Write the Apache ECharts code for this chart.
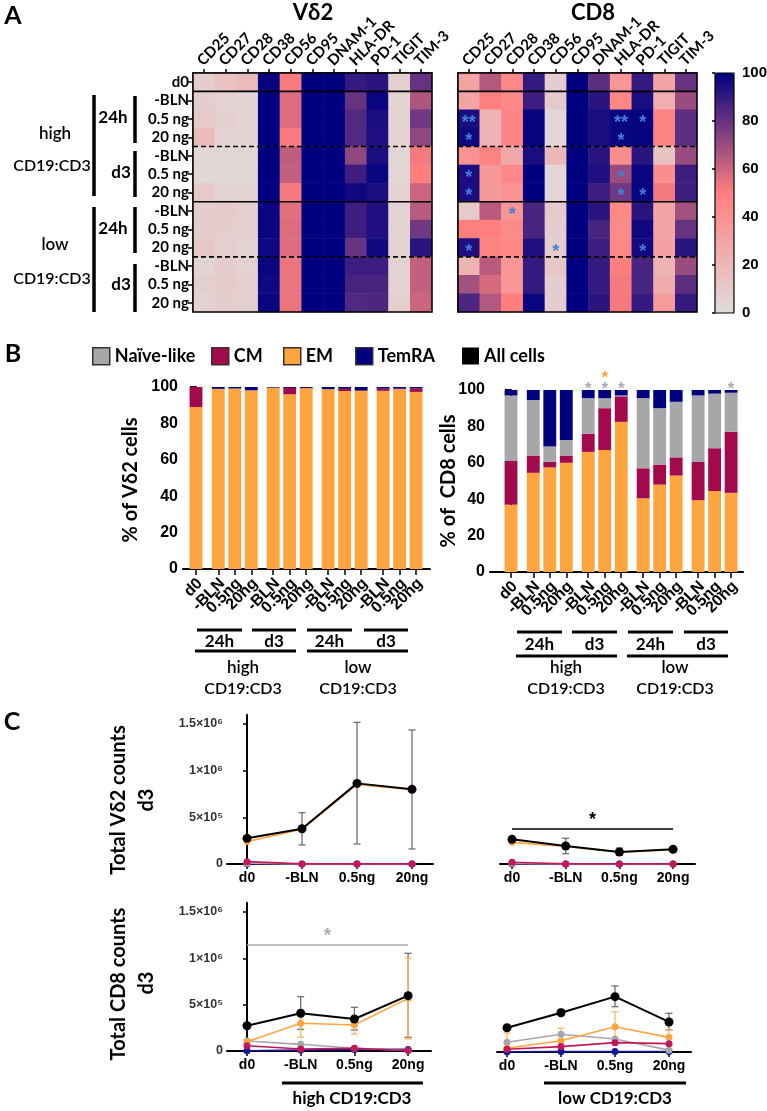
<!DOCTYPE html>
<html><head><meta charset="utf-8">
<script src="https://cdn.jsdelivr.net/npm/echarts@6/dist/echarts.min.js"></script>
<style>html,body{margin:0;padding:0;background:#fff}#c{width:767px;height:1111px}</style>
</head><body><div id="c"></div>
<script>
// ================= DATA =================
const markers = ['CD25','CD27','CD28','CD38','CD56','CD95','DNAM-1','HLA-DR','PD-1','TIGIT','TIM-3'];
const conditionLabels = ['d0','-BLN','0.5 ng','20 ng','-BLN','0.5 ng','20 ng','-BLN','0.5 ng','20 ng','-BLN','0.5 ng','20 ng'];
// rows: d0, high 24h(-BLN,0.5,20), high d3(...), low 24h(...), low d3(...)
const vd2Heat = [
  [8, 14, 18, 99, 51, 100, 100, 90, 92, 7, 80],
  [8, 6, 5, 100, 57, 100, 100, 80, 98, 5, 66],
  [10, 7, 5, 100, 57, 100, 100, 84, 95, 5, 78],
  [18, 5, 5, 100, 51, 100, 100, 84, 94, 6, 72],
  [3, 3, 4, 100, 63, 100, 100, 72, 95, 4, 52],
  [3, 3, 4, 100, 62, 100, 100, 88, 98, 4, 50],
  [10, 5, 5, 100, 52, 100, 100, 97, 95, 5, 60],
  [8, 9, 7, 98, 56, 100, 100, 88, 94, 6, 64],
  [8, 8, 7, 98, 57, 100, 100, 88, 94, 5, 78],
  [12, 7, 6, 97, 57, 100, 100, 80, 97, 6, 92],
  [5, 8, 6, 98, 54, 100, 100, 88, 88, 6, 62],
  [7, 9, 7, 97, 54, 100, 100, 86, 86, 6, 62],
  [6, 8, 7, 98, 54, 100, 100, 84, 85, 7, 60]
];
const cd8Heat = [
  [30, 65, 45, 90, 8, 100, 82, 38, 90, 30, 80],
  [30, 50, 45, 88, 10, 100, 92, 46, 95, 25, 70],
  [95, 22, 47, 99, 3, 100, 95, 98, 99, 48, 82],
  [97, 22, 47, 99, 3, 100, 95, 98, 99, 48, 82],
  [40, 48, 28, 95, 20, 100, 92, 42, 92, 14, 70],
  [95, 38, 45, 100, 3, 100, 94, 70, 98, 42, 88],
  [95, 36, 40, 100, 3, 100, 88, 78, 98, 52, 88],
  [10, 64, 38, 86, 10, 100, 92, 45, 92, 30, 68],
  [50, 50, 44, 86, 8, 100, 86, 44, 97, 30, 80],
  [94, 48, 46, 94, 8, 100, 88, 46, 96, 32, 92],
  [22, 64, 38, 90, 12, 100, 90, 50, 86, 22, 70],
  [68, 58, 38, 90, 8, 100, 90, 52, 86, 26, 82],
  [85, 65, 50, 98, 8, 100, 92, 52, 90, 35, 90]
];
// [column, row, text]
const cd8Stars = [
  [0, 2, '**'], [7, 2, '**'], [8, 2, '*'],
  [0, 3, '*'], [7, 3, '*'],
  [0, 5, '*'], [7, 5, '*'],
  [0, 6, '*'], [7, 6, '*'], [8, 6, '*'],
  [2, 7, '*'],
  [0, 9, '*'], [4, 9, '*'], [8, 9, '*']
];
const heatColors = ['#e0dcdc', '#ff7f7f', '#000080'];

const barLabels = ['d0','-BLN','0.5ng','20ng','-BLN','0.5ng','20ng','-BLN','0.5ng','20ng','-BLN','0.5ng','20ng'];
const vd2EM    = [89, 98.9, 99.2, 98.1, 99.5, 96, 99.3, 98.8, 97.8, 97.8, 97.9, 98.8, 97.3];
const vd2CM    = [11, 0.1, 0, 0.2, 0.2, 3.5, 0.2, 0, 1.2, 0.4, 1.2, 0.3, 2];
const vd2Naive = [0, 0, 0, 0, 0, 0, 0, 0, 0, 0, 0, 0, 0];
const vd2TemRA = [0, 1, 0.8, 1.7, 0.3, 0.5, 0.5, 1.2, 1, 1.8, 0.9, 0.9, 0.7];
const cd8EM    = [37, 54.5, 57.5, 60, 66, 67, 82.5, 40.5, 48, 53, 39.5, 44.5, 43.5];
const cd8CM    = [24, 9.5, 3, 4, 10, 23, 14, 16.5, 11, 10, 21, 23.5, 33.5];
const cd8Naive = [36, 30.5, 8.5, 8.5, 19.5, 5.5, 0.5, 38.5, 31, 30.5, 36.5, 30, 21.5];
const cd8TemRA = [3, 5.5, 31, 27.5, 4.5, 4.5, 3, 4.5, 10, 6.5, 3, 2, 1.5];
// [bar index, value height, colour key]
const cd8BarStars = [[4, 102.7, 'naive'], [5, 102.7, 'naive'], [6, 102.7, 'naive'], [12, 102.7, 'naive'], [5, 108.8, 'em']];

const countCats = ['d0', '-BLN', '0.5ng', '20ng'];
const countTicks = [0, 500000, 1000000, 1500000];
const countTickLabels = ['0', '5×10⁵', '1×10⁶', '1.5×10⁶'];
// Vd2 high CD19:CD3
const vHiAll = [275000, 378000, 864000, 800000];
const vHiAllErr = [[1, 204000, 550000], [2, 214000, 1518000], [3, 161000, 1436000]];
const vHiEM = [240000, 372000, 852000, 795000];
const vHiCM = [25000, 1000, 1000, 1000];
const vHiNaive = [8000, 0, 0, 0];
const vHiTemRA = [2000, 0, 0, 0];
// Vd2 low CD19:CD3
const vLoAll = [264000, 193000, 129000, 157000];
const vLoAllErr = [[1, 111000, 275000], [2, 93000, 171000], [3, 129000, 182000]];
const vLoEM = [232000, 188000, 126000, 154000];
const vLoCM = [18000, 1000, 1000, 1000];
const vLoNaive = [6000, 0, 0, 0];
const vLoTemRA = [1000, 0, 0, 0];
const vLoSig = [0, 3, 375000];
// CD8 high
const cHiAll = [273000, 407000, 345000, 597000];
const cHiAllErr = [[1, 234000, 586000], [2, 227000, 471000], [3, 148000, 1054000]];
const cHiEM = [101000, 299000, 281000, 568000];
const cHiEMErr = [[0, 80000, 122000], [1, 148000, 400000], [2, 183000, 340000], [3, 130000, 1004000]];
const cHiCM = [57000, 22000, 29000, 5000];
const cHiNaive = [108000, 72000, 29000, 5000];
const cHiTemRA = [3000, 10000, 15000, 17000];
const cHiSig = [0, 3, 1144000];
// CD8 low
const cLoAll = [262000, 424000, 597000, 324000];
const cLoAllErr = [[1, 399000, 460000], [2, 489000, 712000], [3, 237000, 418000]];
const cLoEM = [40000, 122000, 273000, 158000];
const cLoEMErr = [[0, 10000, 205000], [1, 60000, 256000], [2, 112000, 435000], [3, 80000, 237000]];
const cLoCM = [29000, 58000, 101000, 90000];
const cLoNaive = [105000, 191000, 140000, 20000];
const cLoTemRA = [3000, 5000, 5000, 5000];

// ================= STYLE =================
const LATO = 'Lato, "Open Sans", sans-serif';
const ARIAL = '"Liberation Sans", Arial, sans-serif';
const COL = { naive: '#a7a7a9', cm: '#a3094d', em: '#ffa53f', temra: '#00007f', all: '#000000', cmLine: '#c2185b', temLine: '#16169a' };

const chart = echarts.init(document.getElementById('c'), null, { renderer: 'canvas', width: 767, height: 1111 });

// bar positions (layout): d0, then 4 groups of 3
const barPos = [0];
for (let g = 0; g < 4; g++) for (let k = 0; k < 3; k++) barPos.push(+(1.35 + g * 3.33 + k).toFixed(4));
function rangeFor(left, width, firstPx, step) { return { min: (left - firstPx) / step, max: (left + width - firstPx) / step }; }

const G = [
  { left: 193, top: 73, width: 239, height: 239 },
  { left: 458, top: 73, width: 239, height: 239 },
  { left: 715, top: 73, width: 19, height: 240 },
  { left: 183, top: 387, width: 247, height: 182 },
  { left: 490, top: 390, width: 253, height: 182 },
  { left: 227, top: 714.7, width: 206, height: 149.3 },
  { left: 500, top: 714.7, width: 195, height: 149.3 },
  { left: 227, top: 902.7, width: 204, height: 148.3 },
  { left: 497, top: 903.7, width: 194, height: 148.3 }
].map(g => Object.assign({ containLabel: false, outerBoundsMode: 'none' }, g));

const blackLine = { show: true, lineStyle: { color: '#000', width: 1.5 } };

function heatX(gi) {
  return { gridIndex: gi, type: 'category', data: markers, position: 'top',
    axisLine: blackLine, axisTick: { show: true, alignWithLabel: true, interval: 0, length: 4, lineStyle: { color: '#000', width: 1.5 } },
    axisLabel: { show: false }, splitLine: { show: false } };
}
function heatY(gi, showLabels) {
  return { gridIndex: gi, type: 'category', data: conditionLabels, inverse: true,
    axisLine: blackLine, axisTick: { show: showLabels, alignWithLabel: true, interval: 0, length: 5, lineStyle: { color: '#000', width: 1.5 } },
    axisLabel: { show: showLabels, interval: 0, margin: 4, color: '#000', fontFamily: LATO, fontWeight: 'bold', fontSize: 15 },
    splitLine: { show: false } };
}
function barX(gi, firstPx) {
  const r = rangeFor(G[gi].left, G[gi].width, firstPx, 16.5);
  return { gridIndex: gi, type: 'value', min: r.min, max: r.max,
    axisLine: { show: true, lineStyle: { color: '#000', width: 2 } },
    axisTick: { show: true, customValues: barPos, length: 6, lineStyle: { color: '#000', width: 1.5 } },
    axisLabel: { show: false }, splitLine: { show: false } };
}
function barY(gi) {
  return { gridIndex: gi, type: 'value', min: 0, max: 100, interval: 20,
    axisLine: { show: true, lineStyle: { color: '#000', width: 2 } },
    axisTick: { show: true, length: 6, lineStyle: { color: '#000', width: 2 } },
    axisLabel: { margin: 5, color: '#000', fontFamily: ARIAL, fontWeight: 'bold', fontSize: 16 },
    splitLine: { show: false } };
}
function cntX(gi, firstPx, step) {
  const r = rangeFor(G[gi].left, G[gi].width, firstPx, step);
  const vals = [0, 1, 2, 3];
  return { gridIndex: gi, type: 'value', min: r.min, max: r.max,
    axisLine: { show: true, lineStyle: { color: '#000', width: 2 } },
    axisTick: { show: true, customValues: vals, length: 5, lineStyle: { color: '#000', width: 1.5 } },
    axisLabel: { customValues: vals, margin: 7, showMinLabel: true, showMaxLabel: true, color: '#000', fontFamily: ARIAL, fontWeight: 'bold', fontSize: 14,
      formatter: v => countCats[Math.round(v)] },
    splitLine: { show: false } };
}
function cntY(gi, show) {
  return { gridIndex: gi, type: 'value', min: 0, max: 1600000, show: show,
    axisLine: { show: true, lineStyle: { color: '#000', width: 2 } },
    axisTick: { show: true, customValues: countTicks, length: 4, lineStyle: { color: '#000', width: 1.5 } },
    axisLabel: { customValues: countTicks, margin: 4, showMinLabel: true, showMaxLabel: true, color: '#333', fontFamily: ARIAL, fontWeight: 'bold', fontSize: 12.5,
      formatter: v => { const i = countTicks.indexOf(v); return i >= 0 ? countTickLabels[i] : ''; } },
    splitLine: { show: false } };
}

const xAxis = [
  heatX(0), heatX(1),
  { gridIndex: 2, type: 'value', show: false, min: 0, max: 1 },
  barX(3, 196), barX(4, 511),
  cntX(5, 247, 55), cntX(6, 512, 53.7), cntX(7, 247, 53.7), cntX(8, 507, 54)
];
const yAxis = [
  heatY(0, true), heatY(1, false),
  { gridIndex: 2, type: 'value', min: 0, max: 100, interval: 20, position: 'right',
    axisLine: { show: false }, axisTick: { show: true, inside: true, length: 3, lineStyle: { color: '#000', width: 1.5 } },
    axisLabel: { margin: 8, color: '#000', fontFamily: ARIAL, fontWeight: 'bold', fontSize: 15 }, splitLine: { show: false } },
  barY(3), barY(4),
  cntY(5, true), cntY(6, false), cntY(7, true), cntY(8, false)
];

function heatData(rows) { const d = []; rows.forEach((r, ri) => r.forEach((v, ci) => d.push([ci, ri, v]))); return d; }

function renderStack(params, api) {
  const x = api.value(0), y0 = api.value(1), y1 = api.value(2);
  const a = api.coord([x, y0]), b = api.coord([x, y1]);
  const w = api.size([0.78, 0])[0];
  return { type: 'rect', shape: { x: a[0] - w / 2, y: b[1], width: w, height: a[1] - b[1] }, style: { fill: api.visual('color') } };
}
function stackSeries(gi, name, color, vals, below) {
  return { type: 'custom', name: name, xAxisIndex: gi, yAxisIndex: gi, silent: true, clip: false,
    itemStyle: { color: color }, encode: { x: 0, y: [1, 2] },
    data: vals.map((v, i) => [barPos[i], below[i], below[i] + v]), renderItem: renderStack };
}
function stacked(gi, em, cm, naive, tem) {
  const base0 = em.map(() => 0);
  const b1 = em.slice();
  const b2 = em.map((v, i) => v + cm[i]);
  const b3 = b2.map((v, i) => v + naive[i]);
  return [
    stackSeries(gi, 'EM', COL.em, em, base0),
    stackSeries(gi, 'CM', COL.cm, cm, b1),
    stackSeries(gi, 'Naïve-like', COL.naive, naive, b2),
    stackSeries(gi, 'TemRA', COL.temra, tem, b3)
  ];
}

function renderErr(params, api) {
  const x = api.value(0), lo = api.value(1), hi = api.value(2);
  const a = api.coord([x, lo]), b = api.coord([x, hi]); const c = 3.5;
  const st = { stroke: api.visual('color'), lineWidth: 1.3 };
  return { type: 'group', children: [
    { type: 'line', shape: { x1: a[0], y1: a[1], x2: b[0], y2: b[1] }, style: st },
    { type: 'line', shape: { x1: a[0] - c, y1: a[1], x2: a[0] + c, y2: a[1] }, style: st },
    { type: 'line', shape: { x1: b[0] - c, y1: b[1], x2: b[0] + c, y2: b[1] }, style: st }
  ] };
}
function errSeries(gi, color, data) {
  return { type: 'custom', xAxisIndex: gi, yAxisIndex: gi, silent: true, clip: false, itemStyle: { color: color },
    encode: { x: 0, y: [1, 2] }, data: data, renderItem: renderErr, z: 3 };
}
function lineSeries(gi, name, color, vals, size, width, z, sig, sigColor) {
  const s = { type: 'line', name: name, xAxisIndex: gi, yAxisIndex: gi, silent: true, clip: false,
    data: vals.map((v, i) => [i, v]), symbol: 'circle', symbolSize: size, color: color,
    itemStyle: { color: color }, lineStyle: { color: color, width: width }, z: z };
  if (sig) {
    s.markLine = { silent: true, symbol: ['none', 'none'], animation: false,
      lineStyle: { color: sigColor, width: 1.5, type: 'solid' },
      label: { show: true, position: 'middle', formatter: '*', color: sigColor, fontFamily: ARIAL, fontWeight: 'bold', fontSize: 18, distance: 0 },
      data: [[{ coord: [sig[0], sig[2]] }, { coord: [sig[1], sig[2]] }]] };
  }
  return s;
}
function countPanel(gi, all, allErr, em, emErr, cm, naive, tem, sigAll, sigNaive) {
  const out = [
    lineSeries(gi, 'TemRA', COL.temLine, tem, 7, 1.6, 4),
    lineSeries(gi, 'Naïve-like', COL.naive, naive, 7, 1.6, 4, sigNaive, '#aaaaaa'),
    lineSeries(gi, 'EM', COL.em, em, 7, 1.6, 5),
    lineSeries(gi, 'CM', COL.cmLine, cm, 7, 1.6, 6),
    errSeries(gi, '#6f6f6f', allErr),
    lineSeries(gi, 'All cells', COL.all, all, 9, 2, 8, sigAll, '#000')
  ];
  if (emErr) out.push(errSeries(gi, '#ffb866', emErr));
  return out;
}

const series = [
  { type: 'heatmap', xAxisIndex: 0, yAxisIndex: 0, data: heatData(vd2Heat), silent: true, itemStyle: { borderWidth: 0 } },
  { type: 'heatmap', xAxisIndex: 1, yAxisIndex: 1, data: heatData(cd8Heat), silent: true, itemStyle: { borderWidth: 0 } },
  { type: 'custom', xAxisIndex: 1, yAxisIndex: 1, silent: true, z: 5, data: cd8Stars.map(s => [s[0], s[1]]),
    renderItem: (p, api) => { const c = api.coord([api.value(0), api.value(1)]);
      return { type: 'text', x: c[0], y: c[1] + 4, style: { text: cd8Stars[p.dataIndex][2], fill: '#3f82d4',
        font: 'bold 18px "Liberation Sans", Arial, sans-serif', align: 'center', verticalAlign: 'middle', textAlign: 'center', textVerticalAlign: 'middle' } }; } },
  ...stacked(3, vd2EM, vd2CM, vd2Naive, vd2TemRA),
  ...stacked(4, cd8EM, cd8CM, cd8Naive, cd8TemRA),
  { type: 'custom', xAxisIndex: 4, yAxisIndex: 4, silent: true, clip: false, z: 5, data: cd8BarStars.map(s => [barPos[s[0]], s[1]]),
    renderItem: (p, api) => { const c = api.coord([api.value(0), api.value(1)]); const k = cd8BarStars[p.dataIndex][2];
      return { type: 'text', x: c[0], y: c[1] + 4, style: { text: '*', fill: k === 'em' ? COL.em : '#a9a9b4',
        font: 'bold 17px "Liberation Sans", Arial, sans-serif', align: 'center', verticalAlign: 'middle', textAlign: 'center', textVerticalAlign: 'middle' } }; } },
  ...countPanel(5, vHiAll, vHiAllErr, vHiEM, null, vHiCM, vHiNaive, vHiTemRA, null, null),
  ...countPanel(6, vLoAll, vLoAllErr, vLoEM, null, vLoCM, vLoNaive, vLoTemRA, vLoSig, null),
  ...countPanel(7, cHiAll, cHiAllErr, cHiEM, cHiEMErr, cHiCM, cHiNaive, cHiTemRA, null, cHiSig),
  ...countPanel(8, cLoAll, cLoAllErr, cLoEM, cLoEMErr, cLoCM, cLoNaive, cLoTemRA, null, null)
];

// legends (one per item for exact placement)
const legendItems = [
  { name: 'Naïve-like', left: 92, border: true },
  { name: 'CM', left: 211, border: true },
  { name: 'EM', left: 283, border: true },
  { name: 'TemRA', left: 355, border: true },
  { name: 'All cells', left: 462, border: false }
];
const legend = legendItems.map(it => ({
  data: [{ name: it.name, itemStyle: it.border ? { borderColor: '#333', borderWidth: 1.5 } : { color: '#000' } }],
  left: it.left, top: 347, padding: 0, icon: 'rect', itemWidth: 17, itemHeight: 17, selectedMode: false,
  textStyle: { color: '#000', fontFamily: LATO, fontWeight: 'bold', fontSize: 18 }
}));

// ---------- annotations (graphic) ----------
const gfx = [];
function T(text, x, y, size, opts) {
  opts = opts || {};
  gfx.push({ type: 'text', x: x, y: y, rotation: opts.rot || 0, z: 100, silent: true,
    style: { text: text, fill: opts.color || '#000', font: (opts.weight || 'bold') + ' ' + size + 'px ' + (opts.family || LATO),
      align: opts.align || 'center', verticalAlign: 'middle', textAlign: opts.align || 'center', textVerticalAlign: 'middle' } });
}
function L(x1, y1, x2, y2, w, dash) {
  gfx.push({ type: 'line', z: 100, silent: true, shape: { x1: x1, y1: y1, x2: x2, y2: y2 },
    style: { stroke: '#000', lineWidth: w, lineDash: dash || null } });
}
function R(x, y, w, h, lw) {
  gfx.push({ type: 'rect', z: 100, silent: true, shape: { x: x, y: y, width: w, height: h }, style: { fill: 'none', stroke: '#000', lineWidth: lw } });
}
// panel letters and titles
T('A', 13, 16, 25); T('B', 13, 354, 25); T('C', 12, 722, 25);
T('Vδ2', 313, 13, 22); T('CD8', 593, 13, 22);
// heatmap borders & separators
[0, 1].forEach(gi => {
  const g = G[gi]; const rh = g.height / 13;
  R(g.left, g.top, g.width, g.height, 1.5);
  [[1, false], [4, true], [7, false], [10, true]].forEach(([k, dashed]) => {
    const y = g.top + k * rh;
    L(g.left, y, g.left + g.width, y, 1.6, dashed ? [5, 3] : null);
  });
});
R(715, 73, 19, 240, 1.2);
// heatmap row-group brackets
L(94, 95, 94, 196, 3.5); L(135, 96, 135, 143, 3.5); L(135, 151, 135, 197, 3.5);
L(94, 207, 94, 312, 3.5); L(135, 207, 135, 253, 3.5); L(135, 264, 135, 312, 3.5);
T('24h', 113, 118, 17); T('d3', 121, 173, 17); T('24h', 113, 229, 17); T('d3', 121, 285, 17);
T('high', 55, 134, 17, { weight: '600' }); T('CD19:CD3', 52, 166, 16, { weight: '600' });
T('low', 55, 245, 17, { weight: '600' }); T('CD19:CD3', 52, 279, 16, { weight: '600' });
// panel B annotations
T('% of Vδ2 cells', 131, 480, 20, { rot: Math.PI / 2 });
T('% of  CD8 cells', 449, 481, 20, { rot: Math.PI / 2 });
[[197, 242, '24h'], [252, 296, 'd3'], [307, 352, '24h'], [364, 408, 'd3']].forEach(([a, b, t]) => { L(a, 630, b, 630, 3); T(t, (a + b) / 2, 642, 17); });
L(195, 651, 296, 651, 3); L(307, 651, 408, 651, 3);
T('high', 243, 668, 17, { weight: '600' }); T('CD19:CD3', 243, 689, 16, { weight: '600' });
T('low', 358, 668, 17, { weight: '600' }); T('CD19:CD3', 358, 689, 16, { weight: '600' });
[[517, 562, '24h'], [572, 617, 'd3'], [628, 673, '24h'], [684, 728, 'd3']].forEach(([a, b, t]) => { L(a, 632, b, 632, 3); T(t, (a + b) / 2, 645, 17); });
L(516, 656, 617, 656, 3); L(627, 656, 728, 656, 3);
T('high', 566, 668, 17, { weight: '600' }); T('CD19:CD3', 566, 689, 16, { weight: '600' });
T('low', 675, 668, 17, { weight: '600' }); T('CD19:CD3', 675, 689, 16, { weight: '600' });
// panel C annotations
T('Total Vδ2 counts', 119, 800, 20, { rot: Math.PI / 2 }); T('d3', 147, 800, 20, { rot: Math.PI / 2 });
T('Total CD8 counts', 119, 984, 20, { rot: Math.PI / 2 }); T('d3', 147, 983, 20, { rot: Math.PI / 2 });
L(282, 1083, 423, 1083, 3); T('high CD19:CD3', 352, 1099, 17);
L(544, 1083, 686, 1083, 3); T('low CD19:CD3', 615, 1099, 17);

const baseOption = {
  animation: false,
  backgroundColor: '#fff',
  grid: G,
  xAxis: xAxis,
  yAxis: yAxis,
  visualMap: { type: 'continuous', min: 0, max: 100, seriesIndex: [0, 1], orient: 'vertical', left: 715, top: 73,
    itemWidth: 19, itemHeight: 240, calculable: false, show: true, padding: 0, text: null, hoverLink: false,
    inRange: { color: heatColors } },
  legend: legend,
  series: series
};
chart.setOption(baseOption);

// rotated tick labels placed through the axes' own scales
[0, 1].forEach(ai => {
  markers.forEach((m, i) => {
    const x = chart.convertToPixel({ xAxisIndex: ai }, i);
    T(m, x - 4, G[ai].top - 10, 15, { rot: Math.PI / 4, align: 'left' });
  });
});
[3, 4].forEach(ai => {
  const axisY = G[ai].top + G[ai].height;
  barPos.forEach((p, i) => {
    const x = chart.convertToPixel({ xAxisIndex: ai }, p);
    T(barLabels[i], x + 4, axisY + 12, 16, { rot: Math.PI / 4, align: 'right', family: ARIAL });
  });
});
chart.setOption({ graphic: gfx });
</script></body></html>
